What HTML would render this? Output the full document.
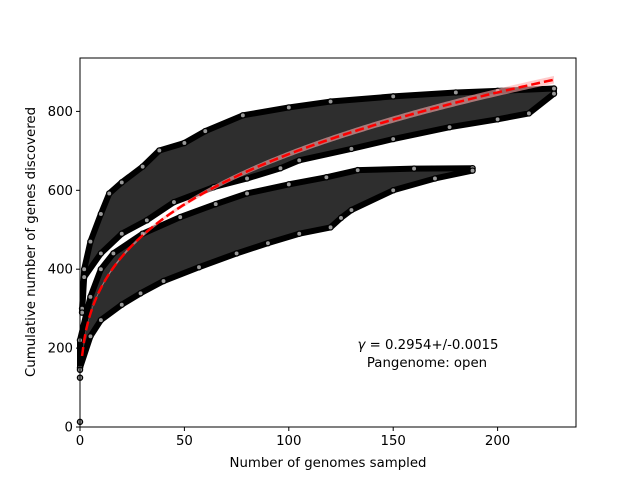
<!DOCTYPE html>
<html><head><meta charset="utf-8"><style>
body{margin:0;background:#fff}
svg text{font-family:"DejaVu Sans","Liberation Sans",sans-serif;fill:#000}
</style></head><body>
<svg id="chart" width="640" height="480" viewBox="0 0 640 480">
<rect width="640" height="480" fill="#fff"/>
<g id="bands"></g>
<g id="fit"></g>
<g id="pts"></g>
<rect x="80" y="58" width="496" height="369" fill="none" stroke="#000" stroke-width="1"/>
<g id="axes"></g>
<text x="428" y="349" text-anchor="middle" font-size="13.3"><tspan font-style="italic">γ</tspan> = 0.2954+/-0.0015</text>
<text x="427" y="367" text-anchor="middle" font-size="13.3">Pangenome: open</text>
<text x="328" y="467" text-anchor="middle" font-size="13.3">Number of genomes sampled</text>
<text transform="translate(35,242) rotate(-90)" text-anchor="middle" font-size="13.3">Cumulative number of genes discovered</text>
</svg>
<script>
const xTicks=[0,50,100,150,200];
const yTicks=[0,200,400,600,800];
const upperTopX=[1,2,5,10,14,20,30,38,50,60,78,100,120,150,180,200,227];
const upperTopY=[300,400,470,540,592,620,660,701,720,750,790,810,825,838,848,852,858];
const upperBotX=[1,2,10,20,32,45,64,80,96,105,130,150,177,200,215,227];
const upperBotY=[290,380,440,490,524,570,608,630,656,676,705,730,760,780,795,845];
const lowerTopX=[0,5,10,16,30,48,65,80,100,118,133,160,188];
const lowerTopY=[220,330,400,440,490,532,565,592,615,633,651,655,656];
const lowerBotX=[0,5,10,20,29,40,57,75,90,105,120,125,130,150,170,188];
const lowerBotY=[150,230,271,310,339,370,405,440,466,490,506,530,550,600,630,650];
const outlierX=[0,0,0];
const outlierY=[13,125,145];
const fitGamma=0.2954, fitK=176.6, fitC=3.4, fitMaxX=227, fitErr=0.0015;
const NS="http://www.w3.org/2000/svg";
const X=v=>80+v*2.088, Y=v=>427-v*0.3945;
function mk(t,a,p){const e=document.createElementNS(NS,t);for(const k in a)e.setAttribute(k,a[k]);p.appendChild(e);return e;}
const bands=document.getElementById('bands');
function band(tx,ty,bx,by,name){
  let d='M'+tx.map((x,i)=>X(x)+','+Y(ty[i])).join('L');
  for(let i=bx.length-1;i>=0;i--)d+='L'+X(bx[i])+','+Y(by[i]);
  d+='Z';
  const p=mk('path',{d:d,fill:'#2e2e2e',stroke:'#000','stroke-width':6,'stroke-linejoin':'round'},bands);
  
  
}
band(upperTopX,upperTopY,upperBotX,upperBotY,'upper-point-cloud');
band(lowerTopX,lowerTopY,lowerBotX,lowerBotY,'lower-point-cloud');
const pts=document.getElementById('pts');
function dots(xs,ys,name){xs.forEach((x,i)=>{const c=mk('circle',{cx:X(x),cy:Y(ys[i]),r:2.6,fill:'#999',stroke:'#000','stroke-width':1.3},pts);

});}
dots(upperTopX,upperTopY,'sample-point');dots(upperBotX,upperBotY,'sample-point');
dots(lowerTopX,lowerTopY,'sample-point');dots(lowerBotX,lowerBotY,'sample-point');
dots(outlierX,outlierY,'sample-point');
const fit=document.getElementById('fit');
const fv=x=>fitK*Math.pow(x,fitGamma)+fitC;
const fe=x=>fitK*Math.pow(x,fitGamma)*Math.log(x)*fitErr*1.2+1;
let up='',ln='',loPts=[];
for(let x=1;x<=fitMaxX;x++){
  up+=(up?'L':'M')+X(x)+','+Y(fv(x)+fe(x));
  ln+=(ln?'L':'M')+X(x)+','+Y(fv(x));
}
for(let x=fitMaxX;x>=1;x--)loPts.push(X(x)+','+Y(fv(x)-fe(x)));
const ci=mk('path',{d:up+'L'+loPts.join('L')+'Z',fill:'#ffaaaa','fill-opacity':0.6},pts);


const fl=mk('path',{d:ln,fill:'none',stroke:'#ff0000','stroke-width':2.5,'stroke-dasharray':'9,4'},pts);


const ax=document.getElementById('axes');
xTicks.forEach(t=>{const l=mk('line',{x1:X(t),x2:X(t),y1:427,y2:431,stroke:'#000'},ax);


const s=mk('text',{x:X(t),y:445,'text-anchor':'middle','font-size':13.3},ax);s.textContent=t;

});
yTicks.forEach(t=>{const l=mk('line',{x1:76,x2:80,y1:Y(t),y2:Y(t),stroke:'#000'},ax);


const s=mk('text',{x:73,y:Y(t)+4.5,'text-anchor':'end','font-size':13.3},ax);s.textContent=t;

});
</script>
</body></html>
